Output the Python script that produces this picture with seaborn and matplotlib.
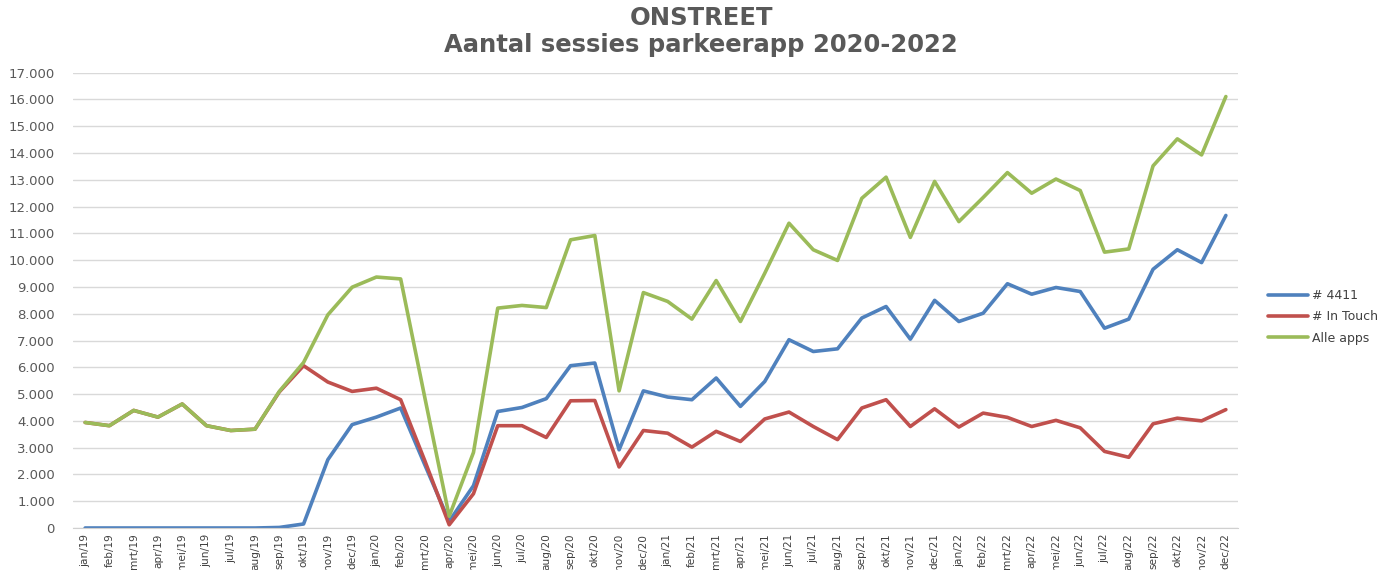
import pandas as pd
import numpy as np
import matplotlib
matplotlib.use("Agg")
import matplotlib.pyplot as plt
import seaborn as sns

# -------------------------
# data (sessions per month)
months = ["jan", "feb", "mrt", "apr", "mei", "jun",
          "jul", "aug", "sep", "okt", "nov", "dec"]
years = ["19", "20", "21", "22"]
labels = [f"{m}/{y}" for y in years for m in months]

app_4411 = [0, 0, 0, 0, 0, 0, 0, 0, 20, 150, 2550, 3860,
            4140, 4480, 2350, 250, 1580, 4350, 4500, 4830, 6060, 6160, 2920, 5120,
            4890, 4790, 5600, 4540, 5470, 7030, 6590, 6690, 7840, 8270, 7050, 8500,
            7710, 8020, 9120, 8730, 8980, 8830, 7460, 7800, 9660, 10390, 9910, 11670]
in_touch = [3940, 3820, 4390, 4140, 4630, 3820, 3640, 3690, 5080, 6060, 5450, 5100,
            5220, 4790, 2500, 120, 1280, 3820, 3820, 3380, 4750, 4760, 2280, 3640,
            3540, 3020, 3610, 3230, 4070, 4330, 3790, 3300, 4480, 4790, 3790, 4450,
            3770, 4290, 4130, 3790, 4020, 3740, 2860, 2640, 3890, 4100, 4000, 4420]
alle_apps = [3940, 3820, 4390, 4140, 4630, 3820, 3640, 3690, 5100, 6180, 7960, 8990,
             9370, 9300, 4850, 440, 2820, 8210, 8310, 8230, 10760, 10920, 5120, 8790,
             8460, 7800, 9240, 7710, 9510, 11380, 10390, 9990, 12310, 13100, 10850, 12940,
             11440, 12340, 13270, 12500, 13030, 12600, 10300, 10420, 13520, 14530, 13930, 16110]

series_names = ["# 4411", "# In Touch", "Alle apps"]
colors = ["#4F81BD", "#C0504D", "#9BBB59"]

idx = np.arange(len(labels))
data = pd.concat([
    pd.DataFrame({"maand": idx, "sessies": vals, "app": name})
    for name, vals in zip(series_names, [app_4411, in_touch, alle_apps])
])

# -------------------------
# plot
sns.set_style("white")
plt.rcParams["font.family"] = ["DejaVu Sans"]

fig = plt.figure(figsize=(13.94, 5.70), dpi=100)
ax = fig.add_axes([73 / 1394, 1 - 528 / 570, (1238 - 73) / 1394, (528 - 72.7) / 570])

sns.lineplot(data=data, x="maand", y="sessies", hue="app", hue_order=series_names,
             palette=colors, linewidth=2.6, ax=ax, legend=False)

ax.set_xlim(-0.5, len(labels) - 0.5)
ax.set_ylim(0, 17000)
ax.set_yticks(np.arange(0, 17001, 1000))
ax.set_yticklabels([f"{v:,}".replace(",", ".") for v in range(0, 17001, 1000)],
                   fontsize=9.5, color="#595959")
ax.set_xticks(idx)
ax.set_xticklabels(labels, rotation=90, fontsize=7.6, color="#404040",
                   family=["Liberation Sans Narrow", "DejaVu Sans"])
ax.tick_params(axis="y", length=0, pad=13)
ax.tick_params(axis="x", length=0, pad=4)
ax.set_xlabel("")
ax.set_ylabel("")
ax.grid(axis="y", color="#D9D9D9", linewidth=1)
ax.grid(axis="x", visible=False)
for s in ax.spines.values():
    s.set_visible(False)
ax.spines["bottom"].set_visible(True)
ax.spines["bottom"].set_color("#D0D0D0")
ax.set_axisbelow(True)

# legend on the right
handles = [plt.Line2D([], [], color=c, linewidth=2.6) for c in colors]
fig.legend(handles, series_names, loc="center left",
           bbox_to_anchor=(1257 / 1394, 1 - 317 / 570), frameon=False,
           fontsize=9, handlelength=3.2, handletextpad=0.3, labelspacing=0.65,
           labelcolor="#404040")

fig.text(0.503, 1 - 18 / 570, "ONSTREET", ha="center", va="center",
         fontsize=17.5, fontweight="bold", color="#595959")
fig.text(0.503, 1 - 45 / 570, "Aantal sessies parkeerapp 2020-2022", ha="center",
         va="center", fontsize=17.5, fontweight="bold", color="#595959")

fig.savefig("out.png", dpi=100)
print("saved out.png")
